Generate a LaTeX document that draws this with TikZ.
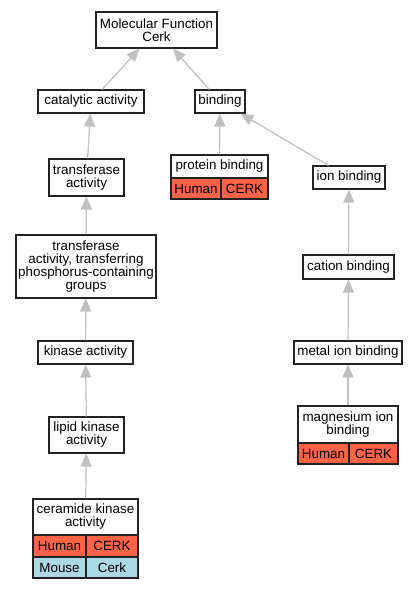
\documentclass[tikz,border=0pt]{standalone}
\usepackage{fontspec}
\setmainfont{Liberation Sans}
\usetikzlibrary{arrows.meta}
\definecolor{hum}{HTML}{FF6347}
\definecolor{mou}{HTML}{ADD8E6}
\definecolor{edgegray}{HTML}{C0C0C0}
\definecolor{border}{HTML}{222222}
\begin{document}
\begin{tikzpicture}[x=1pt,y=-1pt,
  box/.style={draw=border,line width=1.1pt,fill=white,inner sep=0pt,align=center,font=\fontsize{13.4}{13}\selectfont},
  cell/.style={draw=border,line width=1.1pt,inner sep=0pt,font=\fontsize{13.4}{13}\selectfont},
  edge/.style={draw=edgegray,line width=1.2pt,-{Triangle[width=11pt,length=13pt]}}]
\useasboundingbox (0,0) rectangle (417,589);
% left chain
\node[box,minimum width=121pt,minimum height=36pt] (mf) at (156.5,30) {Molecular Function\\Cerk};
\node[box,minimum width=106pt,minimum height=23pt] (cat) at (91,101.5) {catalytic activity};
\node[box,minimum width=50pt,minimum height=23pt] (bind) at (220,101.5) {binding};
\node[box,minimum width=75pt,minimum height=37pt] (trans) at (86.5,177.5) {transferase\\activity};
\node[box,minimum width=140pt,minimum height=63pt] (tatp) at (86,266.5) {transferase\\activity, transferring\\phosphorus-containing\\groups};
\node[box,minimum width=95pt,minimum height=23pt] (kin) at (85.5,352.5) {kinase activity};
\node[box,minimum width=75pt,minimum height=36pt] (lip) at (86.5,435) {lipid kinase\\activity};
% ceramide table
\node[box,minimum width=105pt,minimum height=36pt] (cer) at (85.5,517) {ceramide kinase\\activity};
\node[cell,fill=hum,minimum width=53pt,minimum height=22pt] (cerh) at (59.5,546) {Human};
\node[cell,fill=hum,minimum width=52pt,minimum height=22pt] (cerc) at (112,546) {CERK};
\node[cell,fill=mou,minimum width=53pt,minimum height=21pt] (cerm) at (59.5,567.5) {Mouse};
\node[cell,fill=mou,minimum width=52pt,minimum height=21pt] (cerk) at (112,567.5) {Cerk};
% protein binding table
\node[box,minimum width=97pt,minimum height=23pt] (prot) at (219.5,166.5) {protein binding};
\node[cell,fill=hum,minimum width=50pt,minimum height=21pt] (proth) at (196,188.5) {Human};
\node[cell,fill=hum,minimum width=47pt,minimum height=21pt] (protc) at (244.5,188.5) {CERK};
% right chain
\node[box,minimum width=72pt,minimum height=23pt] (ion) at (349,177.5) {ion binding};
\node[box,minimum width=91pt,minimum height=24pt] (cation) at (348.5,267) {cation binding};
\node[box,minimum width=108pt,minimum height=23pt] (metal) at (348,352.5) {metal ion binding};
\node[box,minimum width=100pt,minimum height=37pt] (mag) at (348,424.5) {magnesium ion\\binding};
\node[cell,fill=hum,minimum width=51pt,minimum height=21pt] (magh) at (323.5,453.5) {Human};
\node[cell,fill=hum,minimum width=49pt,minimum height=21pt] (magc) at (373.5,453.5) {CERK};
% edges
\draw[edge] (cat) -- (mf);
\draw[edge] (bind) -- (mf);
\draw[edge] (trans) -- (cat);
\draw[edge] (tatp) -- (trans);
\draw[edge] (kin) -- (tatp);
\draw[edge] (lip) -- (kin);
\draw[edge] (cer) -- (lip);
\draw[edge] (prot) -- (bind);
\draw[edge] (ion) -- (bind);
\draw[edge] (cation) -- (ion);
\draw[edge] (metal) -- (cation);
\draw[edge] (mag) -- (metal);
\end{tikzpicture}
\end{document}
